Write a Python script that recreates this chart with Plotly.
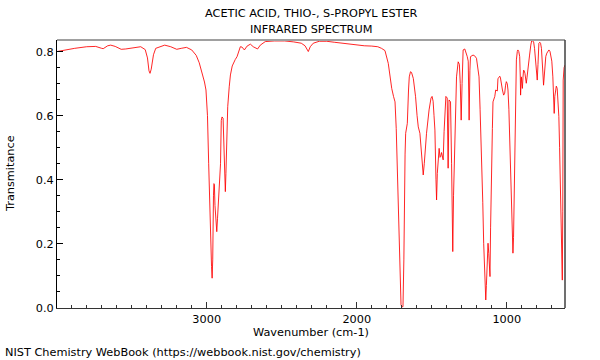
import plotly.graph_objects as go

# Wavenumber (cm-1) and transmittance
wavenumber = [
    3998, 3950, 3880, 3800, 3740, 3700, 3690, 3660, 3640, 3610, 3570, 3540, 3480, 3440,
    3410, 3395, 3385, 3378, 3370, 3355, 3340, 3300, 3280, 3240, 3200, 3170, 3135, 3100,
    3070, 3050, 3030, 3015, 3005, 2995, 2987, 2980, 2975, 2968, 2964, 2960, 2955, 2952,
    2949, 2945, 2938, 2933, 2928, 2918, 2913, 2908, 2903, 2898, 2891, 2885, 2880, 2876,
    2872, 2866, 2860, 2850, 2842, 2830, 2820, 2810, 2798, 2788, 2776, 2765, 2749, 2731,
    2709, 2690, 2661, 2643, 2610, 2550, 2480, 2420, 2370, 2345, 2330, 2323, 2310, 2290,
    2250, 2200, 2150, 2100, 2050, 2000, 1950, 1900, 1860, 1835, 1812, 1790, 1775, 1767,
    1755, 1745, 1737, 1730, 1720, 1712, 1705, 1700, 1692, 1686, 1683, 1678, 1674, 1668,
    1663, 1655, 1650, 1642, 1635, 1623, 1608, 1598, 1590, 1579, 1568, 1557, 1550, 1546,
    1535, 1518, 1505, 1498, 1491, 1485, 1479, 1472, 1468, 1463, 1457, 1451, 1445, 1441,
    1435, 1428, 1424, 1418, 1410, 1406, 1397, 1391, 1385, 1375, 1368, 1363, 1360, 1355,
    1346, 1335, 1324, 1316, 1310, 1304, 1298, 1291, 1280, 1273, 1264, 1257, 1251, 1246,
    1242, 1225, 1215, 1202, 1192, 1185, 1178, 1169, 1160, 1154, 1147, 1140, 1136, 1132,
    1128, 1125, 1120, 1116, 1112, 1108, 1103, 1096, 1092, 1087, 1080, 1074, 1068, 1063,
    1059, 1054, 1047, 1043, 1036, 1029, 1021, 1014, 1008, 1003, 997, 992, 986, 981,
    975, 969, 964, 959, 955, 952, 948, 943, 936, 930, 926, 920, 914, 910,
    908, 905, 903, 900, 896, 892, 888, 884, 879, 874, 870, 865, 859, 853,
    848, 840, 834, 827, 821, 815, 808, 802, 797, 792, 786, 780, 775, 769,
    763, 759, 755, 750, 746, 740, 733, 726, 719, 712, 706, 700, 693, 688,
    684, 680, 675, 670, 664, 658, 653, 648, 642, 636, 630, 627, 624, 618, 612,
]
transmittance = [
    0.800, 0.805, 0.810, 0.815, 0.816, 0.810, 0.809, 0.818, 0.820, 0.816, 0.807, 0.808, 0.813, 0.815,
    0.806, 0.780, 0.740, 0.732, 0.745, 0.790, 0.810, 0.818, 0.820, 0.815, 0.807, 0.810, 0.813, 0.805,
    0.788, 0.765, 0.735, 0.705, 0.680, 0.600, 0.450, 0.300, 0.210, 0.130, 0.093, 0.150, 0.350, 0.388,
    0.385, 0.320, 0.260, 0.238, 0.280, 0.360, 0.378, 0.450, 0.585, 0.596, 0.592, 0.500, 0.400, 0.363,
    0.420, 0.550, 0.628, 0.690, 0.727, 0.755, 0.768, 0.775, 0.784, 0.800, 0.815, 0.814, 0.805, 0.817,
    0.823, 0.815, 0.808, 0.820, 0.831, 0.833, 0.833, 0.830, 0.826, 0.818, 0.802, 0.800, 0.815, 0.826,
    0.832, 0.832, 0.829, 0.826, 0.822, 0.820, 0.818, 0.817, 0.815, 0.810, 0.803, 0.763, 0.710, 0.685,
    0.660, 0.643, 0.560, 0.421, 0.220, 0.056, 0.010, 0.004, 0.004, 0.150, 0.347, 0.480, 0.545, 0.565,
    0.576, 0.680, 0.721, 0.737, 0.735, 0.716, 0.659, 0.600, 0.565, 0.545, 0.472, 0.415, 0.450, 0.480,
    0.545, 0.618, 0.655, 0.660, 0.645, 0.600, 0.555, 0.400, 0.337, 0.420, 0.483, 0.498, 0.470, 0.472,
    0.485, 0.470, 0.462, 0.550, 0.655, 0.660, 0.655, 0.436, 0.649, 0.643, 0.450, 0.250, 0.176, 0.350,
    0.555, 0.721, 0.768, 0.760, 0.700, 0.586, 0.700, 0.805, 0.808, 0.800, 0.785, 0.770, 0.586, 0.740,
    0.784, 0.789, 0.787, 0.779, 0.750, 0.721, 0.620, 0.503, 0.330, 0.202, 0.090, 0.025, 0.070, 0.119,
    0.180, 0.202, 0.170, 0.130, 0.098, 0.250, 0.451, 0.560, 0.643, 0.649, 0.660, 0.680, 0.678, 0.677,
    0.715, 0.721, 0.723, 0.720, 0.690, 0.680, 0.664, 0.670, 0.695, 0.706, 0.700, 0.680, 0.620, 0.545,
    0.450, 0.378, 0.280, 0.171, 0.220, 0.295, 0.450, 0.638, 0.774, 0.800, 0.805, 0.800, 0.784, 0.720,
    0.664, 0.700, 0.721, 0.710, 0.685, 0.720, 0.742, 0.740, 0.732, 0.715, 0.701, 0.720, 0.753, 0.775,
    0.789, 0.820, 0.834, 0.833, 0.830, 0.810, 0.774, 0.740, 0.711, 0.760, 0.826, 0.829, 0.826, 0.810,
    0.774, 0.730, 0.695, 0.730, 0.763, 0.785, 0.795, 0.800, 0.805, 0.800, 0.789, 0.770, 0.721, 0.670,
    0.607, 0.660, 0.690, 0.692, 0.685, 0.650, 0.597, 0.500, 0.347, 0.200, 0.087, 0.300, 0.711, 0.750, 0.758,
]

x_tick_values = [3000, 2000, 1000]
x_tick_labels = ["3000", "2000", "1000"]
y_tick_values = [0.0, 0.2, 0.4, 0.6, 0.8]
y_tick_labels = ["0.0", "0.2", "0.4", "0.6", "0.8"]

title_line1 = "ACETIC ACID, THIO-, S-PROPYL ESTER"
title_line2 = "INFRARED SPECTRUM"
x_title = "Wavenumber (cm-1)"
y_title = "Transmitance"
footer = "NIST Chemistry WebBook (https://webbook.nist.gov/chemistry)"

FONT = "DejaVu Sans"
FS = 11.3

fig = go.Figure()
fig.add_trace(go.Scatter(
    x=wavenumber, y=transmittance, mode="lines",
    line=dict(color="rgba(255,0,0,0.85)", width=1),
    showlegend=False, hoverinfo="skip",
))

fig.update_layout(
    width=600, height=360,
    margin=dict(l=57, r=35, t=40, b=52),
    paper_bgcolor="white", plot_bgcolor="white",
    font=dict(family=FONT, size=FS, color="black"),
    xaxis=dict(
        range=[3998, 612], showgrid=False, zeroline=False,
        showline=True, linecolor="#333333", linewidth=1,
        ticks="inside", ticklen=6, tickcolor="#333333",
        tickvals=x_tick_values, ticktext=x_tick_labels,
        minor=dict(dtick=100, tick0=0, ticks="inside", ticklen=3, tickcolor="#333333"),
        tickfont=dict(family=FONT, size=FS),
    ),
    yaxis=dict(
        range=[0, 0.836], showgrid=False, zeroline=False,
        showline=True, linecolor="black", linewidth=1,
        ticks="inside", ticklen=6, tickcolor="black",
        tickvals=y_tick_values, ticktext=y_tick_labels,
        minor=dict(dtick=0.05, tick0=0, ticks="inside", ticklen=3, tickcolor="black"),
        tickfont=dict(family=FONT, size=FS),
    ),
    shapes=[
        dict(type="line", xref="paper", yref="paper", x0=0, x1=1, y0=1, y1=1,
             line=dict(color="#a0a0a0", width=2)),
        dict(type="line", xref="paper", yref="paper", x0=1, x1=1, y0=0, y1=1,
             line=dict(color="#404040", width=1.5)),
    ],
    annotations=[
        dict(text=title_line1, xref="paper", yref="paper", x=0.5, y=1, yshift=27,
             showarrow=False, xanchor="center", yanchor="middle", font=dict(size=FS)),
        dict(text=title_line2, xref="paper", yref="paper", x=0.5, y=1, yshift=11,
             showarrow=False, xanchor="center", yanchor="middle", font=dict(size=FS)),
        dict(text=x_title, xref="paper", yref="paper", x=0.5, y=0, yshift=-24,
             showarrow=False, xanchor="center", yanchor="middle", font=dict(size=FS)),
        dict(text=y_title, xref="paper", yref="paper", x=0, y=0.5, xshift=-47,
             showarrow=False, xanchor="center", yanchor="middle", textangle=-90,
             font=dict(size=FS)),
        dict(text=footer, xref="paper", yref="paper", x=0, y=0, xshift=-54, yshift=-44,
             showarrow=False, xanchor="left", yanchor="middle", font=dict(size=FS)),
    ],
)

fig.write_html(
    "out.html",
    config={"displayModeBar": False},
    post_script="document.body.style.margin='0';document.body.style.overflow='hidden';",
)
